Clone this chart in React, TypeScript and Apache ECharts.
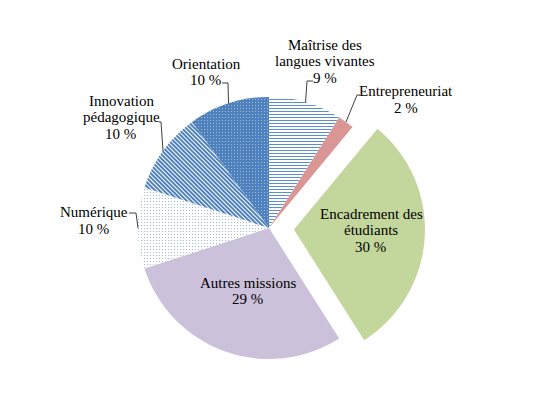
import React, { useEffect, useRef } from "react";
import * as echarts from "echarts";

const categories = [
  "Maîtrise des langues vivantes",
  "Entrepreneuriat",
  "Encadrement des étudiants",
  "Autres missions",
  "Numérique",
  "Innovation pédagogique",
  "Orientation",
];
const labelLines = [
  ["Maîtrise des", "langues vivantes"],
  ["Entrepreneuriat"],
  ["Encadrement des", "étudiants"],
  ["Autres missions"],
  ["Numérique"],
  ["Innovation", "pédagogique"],
  ["Orientation"],
];
const values = [9, 2, 30, 29, 10, 10, 10];
const explodedIndex = 2;
const insideIndexes = [2, 3];

// layout: label text-block centres
const labelPos: number[][] = [
  [325, 61],
  [406, 99.5],
  [371, 230],
  [248, 291],
  [94, 220.5],
  [121, 117],
  [206, 72],
];
// layout: leader-line elbow and end points (outside labels only)
const leaderPts: (number[][] | null)[] = [
  [[307, 81], [313, 81]],
  [[357, 95], [360, 95]],
  null,
  null,
  [[136, 213], [129, 213]],
  [[161, 122], [159, 122]],
  [[228, 83], [222, 83]],
];

const CX = 269;
const CY = 228;
const R = 131;
const LINE_H = 16.5;
const FONT_SIZE = 15;
const BLUE = "#4F81BD";
const FONT_FAMILY = "Liberation Serif";

const styles: any[] = [
  { color: "#ffffff", decal: { symbol: "rect", symbolSize: 1, symbolKeepAspect: false, color: "#5B8FD0", dashArrayX: [[10, 0]], dashArrayY: [1, 2], rotation: 0 } },
  { color: "#D99694" },
  { color: "#C3D69B" },
  { color: "#CCC1DA" },
  { color: "#ffffff", decal: { symbol: "rect", symbolSize: 1, symbolKeepAspect: false, color: "#9DB9E3", dashArrayX: [1, 2], dashArrayY: [1, 2], rotation: 0 } },
  { color: "#ffffff", decal: { symbol: "rect", symbolSize: 1, symbolKeepAspect: false, color: BLUE, dashArrayX: [[10, 0]], dashArrayY: [2, 1], rotation: Math.PI / 4 } },
  { color: BLUE, decal: { symbol: "rect", symbolSize: 1, symbolKeepAspect: false, color: "rgba(255,255,255,0.45)", dashArrayX: [1, 2], dashArrayY: [1, 2], rotation: 0 } },
];

function measure(text: string): number {
  const canvas = document.createElement("canvas");
  const ctx = canvas.getContext("2d");
  if (!ctx) return text.length * 7;
  ctx.font = `${FONT_SIZE}px "${FONT_FAMILY}"`;
  return ctx.measureText(text).width;
}

export default function App() {
  const ref = useRef<HTMLDivElement>(null);
  useEffect(() => {
    if (!ref.current) return;
    const chart = echarts.init(ref.current, undefined, { renderer: "svg" });
    const total = values.reduce((a, b) => a + b, 0);

    const data = categories.map((name, i) => ({
      name,
      value: values[i],
      selected: i === explodedIndex,
      itemStyle: { ...styles[i], borderWidth: 0 },
    }));

    const graphics: any[] = [];
    let cum = 0;
    values.forEach((v, i) => {
      const mid = ((cum + v / 2) / total) * Math.PI * 2; // clockwise from 12 o'clock
      cum += v;
      const pts = leaderPts[i];
      if (pts && !insideIndexes.includes(i)) {
        const edge = [CX + R * Math.sin(mid), CY - R * Math.cos(mid)];
        graphics.push({
          type: "polyline",
          z: 100,
          shape: { points: [edge, ...pts] },
          style: { stroke: "#404040", lineWidth: 1, fill: null },
        });
      }
      const lines = [...labelLines[i], `${v} %`];
      const n = lines.length;
      lines.forEach((t, k) => {
        const w = measure(t);
        const cy = labelPos[i][1] + (k - (n - 1) / 2) * LINE_H;
        graphics.push({
          type: "text",
          z: 100,
          left: Math.round(labelPos[i][0] - w / 2),
          top: Math.round(cy - 8),
          style: {
            text: t,
            fontFamily: FONT_FAMILY,
            fontSize: FONT_SIZE,
          },
        });
      });
    });

    chart.setOption({
      animation: false,
      backgroundColor: "#ffffff",
      series: [
        {
          type: "pie",
          center: [CX, CY],
          radius: [0, R],
          startAngle: 90,
          clockwise: true,
          selectedMode: "single",
          selectedOffset: 25,
          data,
          label: { show: false },
          labelLine: { show: false },
          emphasis: { disabled: true },
        },
      ],
      graphic: graphics,
    });
    return () => chart.dispose();
  }, []);
  return <div ref={ref} style={{ position: "absolute", left: 0, top: 0, width: 556, height: 393 }} />;
}
